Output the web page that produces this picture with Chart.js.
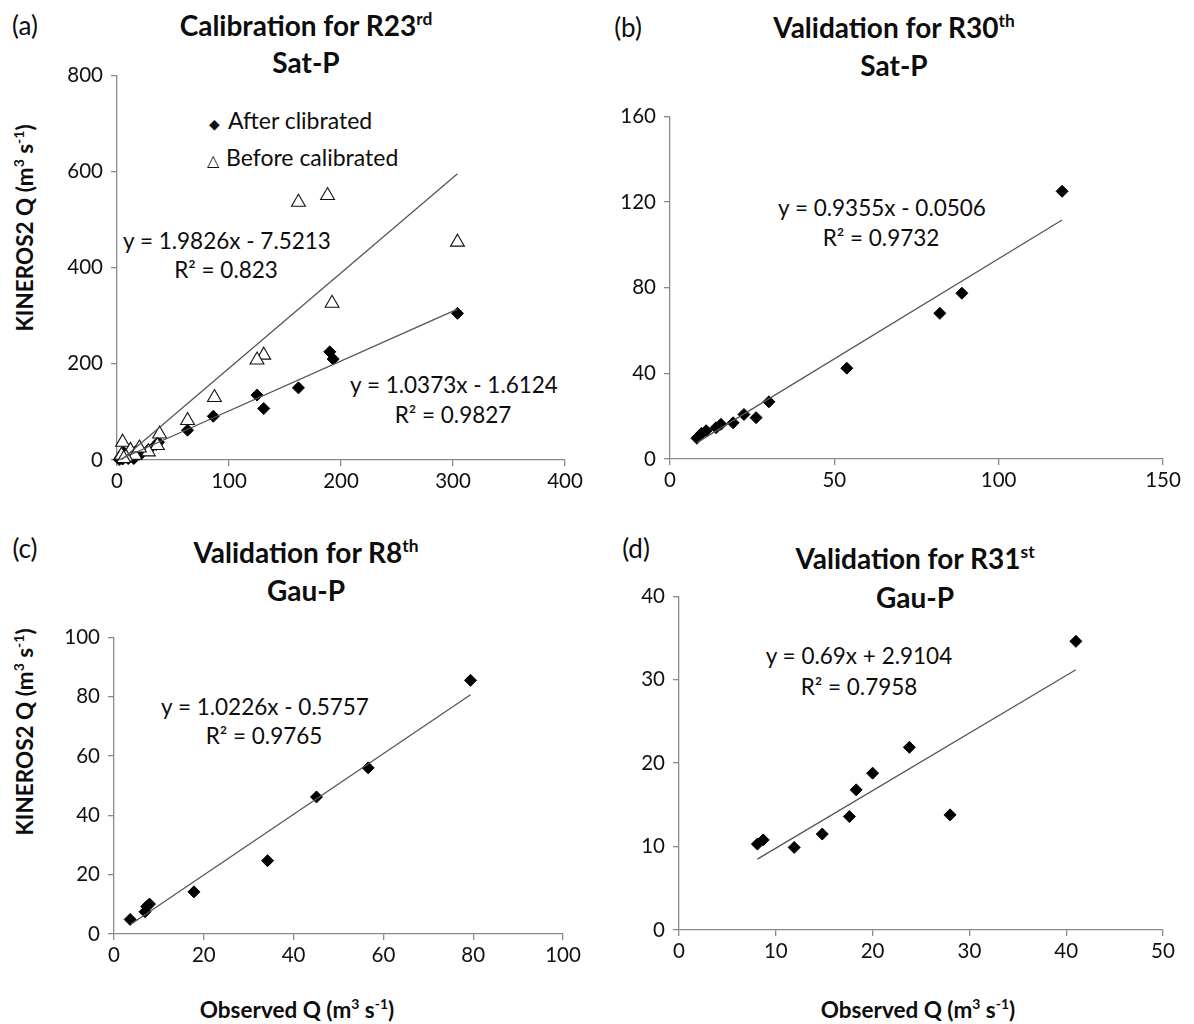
<!DOCTYPE html>
<html>
<head>
<meta charset="utf-8">
<script src="https://cdn.jsdelivr.net/npm/chart.js@4.4.0/dist/chart.umd.min.js"></script>
<style>
    body { margin: 0; background: #fff; width: 1194px; height: 1024px; position: relative; overflow: hidden;
           font-family: Lato, "Open Sans", sans-serif; color: #0d0d0d; }
    canvas { position: absolute; }
    .t { position: absolute; white-space: nowrap; transform: translate(-50%, -50%); }
    .ttl { font-weight: bold; font-size: 28px; }
    .eq { font-size: 22.5px; }
    .lab { font-size: 26px; }
    .ax { font-weight: bold; font-size: 22.5px; }
    .rot { transform: translate(-50%, -50%) rotate(-90deg); }
    .leg { position: absolute; white-space: nowrap; font-size: 23px; transform: translateY(-50%); }
    .sym { font-family: "DejaVu Sans"; display: inline-block; width: 19px; }
    sup { font-size: 0.62em; vertical-align: 0.62em; line-height: 0; }
</style>
</head>
<body>

<!-- panel letters -->
<div class="t lab" style="left:25px;top:25px">(a)</div>
<div class="t lab" style="left:628px;top:27px">(b)</div>
<div class="t lab" style="left:25px;top:548px">(c)</div>
<div class="t lab" style="left:636px;top:548px">(d)</div>

<!-- titles -->
<div class="t ttl" style="left:306px;top:25px">Calibration for R23<sup>rd</sup></div>
<div class="t ttl" style="left:306px;top:62px">Sat-P</div>
<div class="t ttl" style="left:894px;top:27px">Validation for R30<sup>th</sup></div>
<div class="t ttl" style="left:894px;top:65px">Sat-P</div>
<div class="t ttl" style="left:306px;top:552px">Validation for R8<sup>th</sup></div>
<div class="t ttl" style="left:306px;top:590px">Gau-P</div>
<div class="t ttl" style="left:915px;top:558px">Validation for R31<sup>st</sup></div>
<div class="t ttl" style="left:915px;top:597px">Gau-P</div>

<!-- axis titles -->
<div class="t ax rot" style="left:24px;top:228px">KINEROS2 Q (m<sup>3</sup> s<sup>-1</sup>)</div>
<div class="t ax rot" style="left:24px;top:732px">KINEROS2 Q (m<sup>3</sup> s<sup>-1</sup>)</div>
<div class="t ax" style="left:297px;top:1009px">Observed Q (m<sup>3</sup> s<sup>-1</sup>)</div>
<div class="t ax" style="left:918px;top:1009px">Observed Q (m<sup>3</sup> s<sup>-1</sup>)</div>

<!-- trendline equations -->
<div class="t eq" style="left:227px;top:240px">y = 1.9826x - 7.5213</div>
<div class="t eq" style="left:226px;top:269px">R² = 0.823</div>
<div class="t eq" style="left:454px;top:384px">y = 1.0373x - 1.6124</div>
<div class="t eq" style="left:453px;top:414px">R² = 0.9827</div>
<div class="t eq" style="left:882px;top:207px">y = 0.9355x - 0.0506</div>
<div class="t eq" style="left:881px;top:237px">R² = 0.9732</div>
<div class="t eq" style="left:265px;top:706px">y = 1.0226x - 0.5757</div>
<div class="t eq" style="left:264px;top:735px">R² = 0.9765</div>
<div class="t eq" style="left:859px;top:655px">y = 0.69x + 2.9104</div>
<div class="t eq" style="left:859px;top:686px">R² = 0.7958</div>

<!-- legend of panel (a) -->
<div class="leg" style="left:209px;top:120px"><span class="sym" style="font-size:14px">◆</span>After clibrated</div>
<div class="leg" style="left:207px;top:157px"><span class="sym" style="font-size:16px">△</span>Before calibrated</div>

<canvas id="chartA"></canvas>
<canvas id="chartB"></canvas>
<canvas id="chartC"></canvas>
<canvas id="chartD"></canvas>

<script>
// ----- (a) calibration R23, Sat-P -----
const aObsAfter  = [304, 190, 193, 162, 125, 131, 86, 63, 37, 35, 28, 20, 17, 14, 12, 10, 8, 7, 5, 4, 3, 2, 6, 15, 22];
const aSimAfter  = [305, 225, 210, 150, 135, 107, 91, 62, 37, 32, 21, 12, 18, 8, 14, 3, 6, 12, 2, 8, 4, 1, 16, 3, 14];
const aObsBefore = [304, 188, 162, 192, 131, 125, 87, 63, 38, 36, 5, 28, 12, 16, 8, 4, 20, 6];
const aSimBefore = [453, 550, 536, 326, 218, 208, 130, 82, 54, 30, 37, 17, 20, 10, 6, 10, 25, 3];
const aFitAfter  = [1.0373, -1.6124];
const aFitBefore = [1.9826, -7.5213];
const aTicks = [400, 100, 800, 200];   // xMax, xStep, yMax, yStep

// ----- (b) validation R30, Sat-P -----
const bObs = [119.3, 88.8, 82.1, 53.8, 30.1, 26.2, 22.5, 19.2, 15.5, 14, 11, 9.6, 8.6, 8.2];
const bSim = [125, 77.4, 68, 42.4, 26.7, 19.3, 20.8, 16.9, 16.2, 14.6, 13.2, 12, 10.4, 9.7];
const bFit = [0.9355, -0.0506];
const bTicks = [150, 50, 160, 40];

// ----- (c) validation R8, Gau-P -----
const cObs = [79.4, 56.6, 45.1, 34.2, 17.8, 7.9, 7.3, 6.9, 3.6];
const cSim = [85.5, 56, 46.2, 24.7, 14.2, 10.1, 9.3, 7.5, 4.9];
const cFit = [1.0226, -0.5757];
const cTicks = [100, 20, 100, 20];

// ----- (d) validation R31, Gau-P -----
const dObs = [41, 23.8, 20, 18.3, 17.6, 14.8, 11.9, 8.7, 8.1, 28];
const dSim = [34.6, 21.9, 18.8, 16.8, 13.6, 11.5, 9.9, 10.8, 10.3, 13.8];
const dFit = [0.69, 2.9104];
const dTicks = [50, 10, 40, 10];

const AXIS_GREY = '#8a8a8a';
const PAD_L = 62, PAD_T = 20, PAD_R = 30, PAD_B = 40;

function toPoints(xs, ys) {
    return xs.map((x, i) => ({ x: x, y: ys[i] }));
}

// Excel style trendline: spans the observed range
function trendPoints(xs, fit) {
    const lo = Math.max(Math.min(...xs), -fit[1] / fit[0]);
    const hi = Math.max(...xs);
    return [lo, hi].map(x => ({ x: x, y: fit[0] * x + fit[1] }));
}

function diamonds(xs, ys) {
    return {
        data: toPoints(xs, ys), pointStyle: 'rectRot', pointRadius: 6,
        backgroundColor: '#000', borderColor: '#000', borderWidth: 1, clip: false
    };
}

function triangles(xs, ys) {
    return {
        data: toPoints(xs, ys), pointStyle: 'triangle', pointRadius: 8,
        backgroundColor: '#fff', borderColor: '#111', borderWidth: 1.1, clip: false
    };
}

function trend(xs, fit) {
    return {
        data: trendPoints(xs, fit), showLine: true, pointRadius: 0,
        borderColor: '#555', borderWidth: 1.3, fill: false, clip: false
    };
}

function axisOpts(max, step, isX) {
    return {
        type: 'linear', min: 0, max: max,
        ticks: {
            stepSize: step, color: '#111', padding: isX ? 3 : 8,
            font: { family: 'Lato', size: 20.5 }, maxRotation: 0, autoSkip: false
        },
        grid: { display: true, drawOnChartArea: false, drawTicks: true, tickLength: 6, color: AXIS_GREY, lineWidth: 1.3 },
        border: { display: true, color: AXIS_GREY, width: 1.3 },
        afterFit(s) { if (isX) s.height = PAD_B; else s.width = PAD_L; }
    };
}

// box = plot area in page pixels
function scatterPanel(id, box, ticks, datasets) {
    const cv = document.getElementById(id);
    cv.width = box.r - box.l + PAD_L + PAD_R;
    cv.height = box.b - box.t + PAD_T + PAD_B;
    cv.style.left = (box.l - PAD_L) + 'px';
    cv.style.top = (box.t - PAD_T) + 'px';
    return new Chart(cv, {
        type: 'scatter',
        data: { datasets: datasets },
        options: {
            responsive: false, animation: false,
            layout: { padding: { top: PAD_T, right: PAD_R, left: 0, bottom: 0 } },
            plugins: { legend: { display: false }, tooltip: { enabled: false } },
            scales: {
                x: axisOpts(ticks[0], ticks[1], true),
                y: axisOpts(ticks[2], ticks[3], false)
            }
        }
    });
}

scatterPanel('chartA', { l: 117, t: 75, r: 565, b: 460 }, aTicks, [
    trend(aObsBefore, aFitBefore),
    trend(aObsAfter, aFitAfter),
    triangles(aObsBefore, aSimBefore),
    diamonds(aObsAfter, aSimAfter)
]);

scatterPanel('chartB', { l: 670, t: 116, r: 1163, b: 459 }, bTicks, [
    trend(bObs, bFit),
    diamonds(bObs, bSim)
]);

scatterPanel('chartC', { l: 114, t: 637, r: 563, b: 934 }, cTicks, [
    trend(cObs, cFit),
    diamonds(cObs, cSim)
]);

scatterPanel('chartD', { l: 679, t: 596, r: 1163, b: 930 }, dTicks, [
    trend(dObs, dFit),
    diamonds(dObs, dSim)
]);
</script>
</body>
</html>
